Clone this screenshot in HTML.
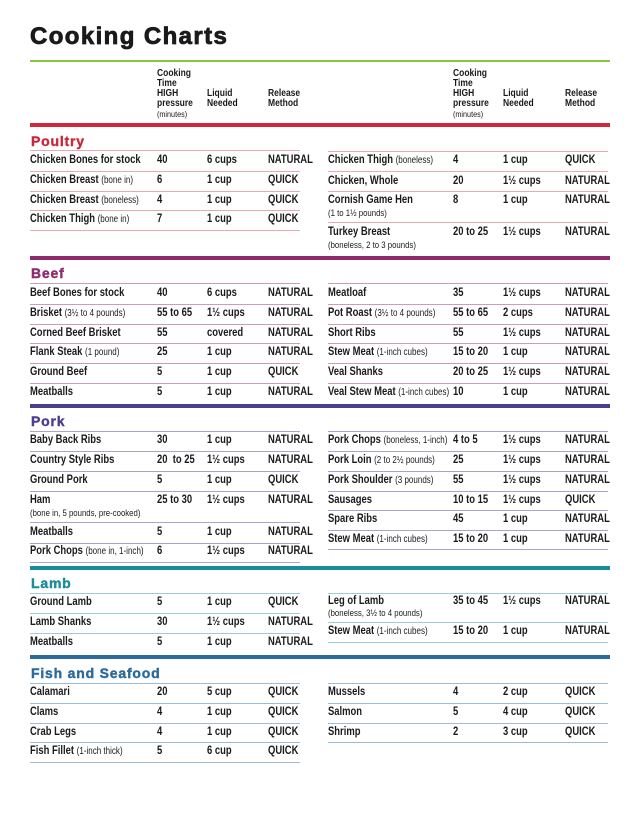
<!DOCTYPE html>
<html><head><meta charset="utf-8"><style>
body{margin:0;width:640px;height:823px;background:#fff;position:relative;overflow:hidden;font-family:"Liberation Sans",sans-serif;color:#1a1a1a}
div{position:absolute}
.t{font:bold 11.5px/13px "Liberation Sans",sans-serif;white-space:nowrap;transform:scaleX(0.82);transform-origin:0 0;margin-top:-1px}
.t small{font-weight:normal;font-size:9.8px}
.s{font:normal 9.5px/11px "Liberation Sans",sans-serif;white-space:nowrap;transform:scaleX(0.82);transform-origin:0 0}
.h{font:bold 10px/10px "Liberation Sans",sans-serif;transform:scaleX(0.85);transform-origin:0 0;white-space:nowrap}
.bar{height:4px;left:30px;width:580px}
.sec{font:900 14px/16px "Liberation Sans",sans-serif;left:31px;letter-spacing:0.8px;-webkit-text-stroke:0.4px currentColor}
.ln{height:1px}
.L{left:30px;width:270px}.R{left:328px;width:280px}
</style></head><body>
<div style="left:30px;top:24px;font:900 24px/26px 'Liberation Sans',sans-serif;letter-spacing:1.4px;color:#1a1a1a;-webkit-text-stroke:0.8px #1a1a1a">Cooking Charts</div>
<div style="left:30px;top:60px;width:580px;height:2px;background:#8cc63f"></div>

<div class="h" style="left:157px;top:69px">Cooking<br>Time<br>HIGH<br>pressure<br><span style="font-weight:normal;font-size:8.5px">(minutes)</span></div>
<div class="h" style="left:207px;top:89px">Liquid<br>Needed</div>
<div class="h" style="left:268px;top:89px">Release<br>Method</div>
<div class="h" style="left:453px;top:69px">Cooking<br>Time<br>HIGH<br>pressure<br><span style="font-weight:normal;font-size:8.5px">(minutes)</span></div>
<div class="h" style="left:503px;top:89px">Liquid<br>Needed</div>
<div class="h" style="left:565px;top:89px">Release<br>Method</div>

<!-- POULTRY -->
<div class="bar" style="top:123px;background:#d0283a"></div>
<div class="sec" style="top:133px;color:#c8283a">Poultry</div>
<div class="ln L" style="top:150px;background:#eaa8b0"></div>
<div class="ln L" style="top:171px;background:#eaa8b0"></div>
<div class="ln L" style="top:191px;background:#eaa8b0"></div>
<div class="ln L" style="top:210px;background:#eaa8b0"></div>
<div class="ln L" style="top:230px;background:#eaa8b0"></div>
<div class="ln R" style="top:151px;background:#eaa8b0"></div>
<div class="ln R" style="top:171px;background:#eaa8b0"></div>
<div class="ln R" style="top:191px;background:#eaa8b0"></div>
<div class="ln R" style="top:222px;background:#eaa8b0"></div>

<div class="t" style="left:30px;top:155px">Chicken Bones for stock</div><div class="t" style="left:157px;top:155px">40</div><div class="t" style="left:207px;top:155px">6 cups</div><div class="t" style="left:268px;top:155px">NATURAL</div>
<div class="t" style="left:30px;top:175px">Chicken Breast <small>(bone in)</small></div><div class="t" style="left:157px;top:175px">6</div><div class="t" style="left:207px;top:175px">1 cup</div><div class="t" style="left:268px;top:175px">QUICK</div>
<div class="t" style="left:30px;top:195px">Chicken Breast <small>(boneless)</small></div><div class="t" style="left:157px;top:195px">4</div><div class="t" style="left:207px;top:195px">1 cup</div><div class="t" style="left:268px;top:195px">QUICK</div>
<div class="t" style="left:30px;top:214px">Chicken Thigh <small>(bone in)</small></div><div class="t" style="left:157px;top:214px">7</div><div class="t" style="left:207px;top:214px">1 cup</div><div class="t" style="left:268px;top:214px">QUICK</div>

<div class="t" style="left:328px;top:155px">Chicken Thigh <small>(boneless)</small></div><div class="t" style="left:453px;top:155px">4</div><div class="t" style="left:503px;top:155px">1 cup</div><div class="t" style="left:565px;top:155px">QUICK</div>
<div class="t" style="left:328px;top:176px">Chicken, Whole</div><div class="t" style="left:453px;top:176px">20</div><div class="t" style="left:503px;top:176px">1½ cups</div><div class="t" style="left:565px;top:176px">NATURAL</div>
<div class="t" style="left:328px;top:195px">Cornish Game Hen</div><div class="s" style="left:328px;top:208px">(1 to 1½ pounds)</div><div class="t" style="left:453px;top:195px">8</div><div class="t" style="left:503px;top:195px">1 cup</div><div class="t" style="left:565px;top:195px">NATURAL</div>
<div class="t" style="left:328px;top:227px">Turkey Breast</div><div class="s" style="left:328px;top:240px">(boneless, 2 to 3 pounds)</div><div class="t" style="left:453px;top:227px">20 to 25</div><div class="t" style="left:503px;top:227px">1½ cups</div><div class="t" style="left:565px;top:227px">NATURAL</div>

<!-- BEEF -->
<div class="bar" style="top:256px;background:#8e2a6e"></div>
<div class="sec" style="top:265px;color:#8e2a6e">Beef</div>
<div class="ln L" style="top:283px;background:#cc9cbc"></div>
<div class="ln L" style="top:304px;background:#cc9cbc"></div>
<div class="ln L" style="top:324px;background:#cc9cbc"></div>
<div class="ln L" style="top:343px;background:#cc9cbc"></div>
<div class="ln L" style="top:363px;background:#cc9cbc"></div>
<div class="ln L" style="top:383px;background:#cc9cbc"></div>
<div class="ln R" style="top:283px;background:#cc9cbc"></div>
<div class="ln R" style="top:304px;background:#cc9cbc"></div>
<div class="ln R" style="top:324px;background:#cc9cbc"></div>
<div class="ln R" style="top:343px;background:#cc9cbc"></div>
<div class="ln R" style="top:363px;background:#cc9cbc"></div>
<div class="ln R" style="top:383px;background:#cc9cbc"></div>

<div class="t" style="left:30px;top:288px">Beef Bones for stock</div><div class="t" style="left:157px;top:288px">40</div><div class="t" style="left:207px;top:288px">6 cups</div><div class="t" style="left:268px;top:288px">NATURAL</div>
<div class="t" style="left:30px;top:308px">Brisket <small>(3½ to 4 pounds)</small></div><div class="t" style="left:157px;top:308px">55 to 65</div><div class="t" style="left:207px;top:308px">1½ cups</div><div class="t" style="left:268px;top:308px">NATURAL</div>
<div class="t" style="left:30px;top:328px">Corned Beef Brisket</div><div class="t" style="left:157px;top:328px">55</div><div class="t" style="left:207px;top:328px">covered</div><div class="t" style="left:268px;top:328px">NATURAL</div>
<div class="t" style="left:30px;top:347px">Flank Steak <small>(1 pound)</small></div><div class="t" style="left:157px;top:347px">25</div><div class="t" style="left:207px;top:347px">1 cup</div><div class="t" style="left:268px;top:347px">NATURAL</div>
<div class="t" style="left:30px;top:367px">Ground Beef</div><div class="t" style="left:157px;top:367px">5</div><div class="t" style="left:207px;top:367px">1 cup</div><div class="t" style="left:268px;top:367px">QUICK</div>
<div class="t" style="left:30px;top:387px">Meatballs</div><div class="t" style="left:157px;top:387px">5</div><div class="t" style="left:207px;top:387px">1 cup</div><div class="t" style="left:268px;top:387px">NATURAL</div>

<div class="t" style="left:328px;top:288px">Meatloaf</div><div class="t" style="left:453px;top:288px">35</div><div class="t" style="left:503px;top:288px">1½ cups</div><div class="t" style="left:565px;top:288px">NATURAL</div>
<div class="t" style="left:328px;top:308px">Pot Roast <small>(3½ to 4 pounds)</small></div><div class="t" style="left:453px;top:308px">55 to 65</div><div class="t" style="left:503px;top:308px">2 cups</div><div class="t" style="left:565px;top:308px">NATURAL</div>
<div class="t" style="left:328px;top:328px">Short Ribs</div><div class="t" style="left:453px;top:328px">55</div><div class="t" style="left:503px;top:328px">1½ cups</div><div class="t" style="left:565px;top:328px">NATURAL</div>
<div class="t" style="left:328px;top:347px">Stew Meat <small>(1-inch cubes)</small></div><div class="t" style="left:453px;top:347px">15 to 20</div><div class="t" style="left:503px;top:347px">1 cup</div><div class="t" style="left:565px;top:347px">NATURAL</div>
<div class="t" style="left:328px;top:367px">Veal Shanks</div><div class="t" style="left:453px;top:367px">20 to 25</div><div class="t" style="left:503px;top:367px">1½ cups</div><div class="t" style="left:565px;top:367px">NATURAL</div>
<div class="t" style="left:328px;top:387px">Veal Stew Meat <small>(1-inch cubes)</small></div><div class="t" style="left:453px;top:387px">10</div><div class="t" style="left:503px;top:387px">1 cup</div><div class="t" style="left:565px;top:387px">NATURAL</div>

<!-- PORK -->
<div class="bar" style="top:404px;background:#4a3e8e"></div>
<div class="sec" style="top:413px;color:#4a3e8e">Pork</div>
<div class="ln L" style="top:431px;background:#aaa4cc"></div>
<div class="ln L" style="top:451px;background:#aaa4cc"></div>
<div class="ln L" style="top:471px;background:#aaa4cc"></div>
<div class="ln L" style="top:491px;background:#aaa4cc"></div>
<div class="ln L" style="top:522px;background:#aaa4cc"></div>
<div class="ln L" style="top:543px;background:#aaa4cc"></div>
<div class="ln L" style="top:562px;background:#aaa4cc"></div>
<div class="ln R" style="top:431px;background:#aaa4cc"></div>
<div class="ln R" style="top:451px;background:#aaa4cc"></div>
<div class="ln R" style="top:471px;background:#aaa4cc"></div>
<div class="ln R" style="top:491px;background:#aaa4cc"></div>
<div class="ln R" style="top:510px;background:#aaa4cc"></div>
<div class="ln R" style="top:530px;background:#aaa4cc"></div>
<div class="ln R" style="top:549px;background:#aaa4cc"></div>

<div class="t" style="left:30px;top:435px">Baby Back Ribs</div><div class="t" style="left:157px;top:435px">30</div><div class="t" style="left:207px;top:435px">1 cup</div><div class="t" style="left:268px;top:435px">NATURAL</div>
<div class="t" style="left:30px;top:455px">Country Style Ribs</div><div class="t" style="left:157px;top:455px">20 &nbsp;to 25</div><div class="t" style="left:207px;top:455px">1½ cups</div><div class="t" style="left:268px;top:455px">NATURAL</div>
<div class="t" style="left:30px;top:475px">Ground Pork</div><div class="t" style="left:157px;top:475px">5</div><div class="t" style="left:207px;top:475px">1 cup</div><div class="t" style="left:268px;top:475px">QUICK</div>
<div class="t" style="left:30px;top:495px">Ham</div><div class="s" style="left:30px;top:508px">(bone in, 5 pounds, pre-cooked)</div><div class="t" style="left:157px;top:495px">25 to 30</div><div class="t" style="left:207px;top:495px">1½ cups</div><div class="t" style="left:268px;top:495px">NATURAL</div>
<div class="t" style="left:30px;top:527px">Meatballs</div><div class="t" style="left:157px;top:527px">5</div><div class="t" style="left:207px;top:527px">1 cup</div><div class="t" style="left:268px;top:527px">NATURAL</div>
<div class="t" style="left:30px;top:546px">Pork Chops <small>(bone in, 1-inch)</small></div><div class="t" style="left:157px;top:546px">6</div><div class="t" style="left:207px;top:546px">1½ cups</div><div class="t" style="left:268px;top:546px">NATURAL</div>

<div class="t" style="left:328px;top:435px">Pork Chops <small>(boneless, 1-inch)</small></div><div class="t" style="left:453px;top:435px">4 to 5</div><div class="t" style="left:503px;top:435px">1½ cups</div><div class="t" style="left:565px;top:435px">NATURAL</div>
<div class="t" style="left:328px;top:455px">Pork Loin <small>(2 to 2½ pounds)</small></div><div class="t" style="left:453px;top:455px">25</div><div class="t" style="left:503px;top:455px">1½ cups</div><div class="t" style="left:565px;top:455px">NATURAL</div>
<div class="t" style="left:328px;top:475px">Pork Shoulder <small>(3 pounds)</small></div><div class="t" style="left:453px;top:475px">55</div><div class="t" style="left:503px;top:475px">1½ cups</div><div class="t" style="left:565px;top:475px">NATURAL</div>
<div class="t" style="left:328px;top:495px">Sausages</div><div class="t" style="left:453px;top:495px">10 to 15</div><div class="t" style="left:503px;top:495px">1½ cups</div><div class="t" style="left:565px;top:495px">QUICK</div>
<div class="t" style="left:328px;top:514px">Spare Ribs</div><div class="t" style="left:453px;top:514px">45</div><div class="t" style="left:503px;top:514px">1 cup</div><div class="t" style="left:565px;top:514px">NATURAL</div>
<div class="t" style="left:328px;top:534px">Stew Meat <small>(1-inch cubes)</small></div><div class="t" style="left:453px;top:534px">15 to 20</div><div class="t" style="left:503px;top:534px">1 cup</div><div class="t" style="left:565px;top:534px">NATURAL</div>

<!-- LAMB -->
<div class="bar" style="top:566px;background:#1a8c98"></div>
<div class="sec" style="top:575px;color:#1a8c98">Lamb</div>
<div class="ln L" style="top:593px;background:#9cccd4"></div>
<div class="ln L" style="top:613px;background:#9cccd4"></div>
<div class="ln L" style="top:633px;background:#9cccd4"></div>
<div class="ln R" style="top:593px;background:#9cccd4"></div>
<div class="ln R" style="top:622px;background:#9cccd4"></div>
<div class="ln R" style="top:642px;background:#9cccd4"></div>

<div class="t" style="left:30px;top:597px">Ground Lamb</div><div class="t" style="left:157px;top:597px">5</div><div class="t" style="left:207px;top:597px">1 cup</div><div class="t" style="left:268px;top:597px">QUICK</div>
<div class="t" style="left:30px;top:617px">Lamb Shanks</div><div class="t" style="left:157px;top:617px">30</div><div class="t" style="left:207px;top:617px">1½ cups</div><div class="t" style="left:268px;top:617px">NATURAL</div>
<div class="t" style="left:30px;top:637px">Meatballs</div><div class="t" style="left:157px;top:637px">5</div><div class="t" style="left:207px;top:637px">1 cup</div><div class="t" style="left:268px;top:637px">NATURAL</div>

<div class="t" style="left:328px;top:596px">Leg of Lamb</div><div class="s" style="left:328px;top:608px">(boneless, 3½ to 4 pounds)</div><div class="t" style="left:453px;top:596px">35 to 45</div><div class="t" style="left:503px;top:596px">1½ cups</div><div class="t" style="left:565px;top:596px">NATURAL</div>
<div class="t" style="left:328px;top:626px">Stew Meat <small>(1-inch cubes)</small></div><div class="t" style="left:453px;top:626px">15 to 20</div><div class="t" style="left:503px;top:626px">1 cup</div><div class="t" style="left:565px;top:626px">NATURAL</div>

<!-- FISH -->
<div class="bar" style="top:655px;background:#2a6a9c"></div>
<div class="sec" style="top:665px;color:#2a6a9c">Fish and Seafood</div>
<div class="ln L" style="top:683px;background:#9cbcd8"></div>
<div class="ln L" style="top:703px;background:#9cbcd8"></div>
<div class="ln L" style="top:723px;background:#9cbcd8"></div>
<div class="ln L" style="top:742px;background:#9cbcd8"></div>
<div class="ln L" style="top:762px;background:#9cbcd8"></div>
<div class="ln R" style="top:683px;background:#9cbcd8"></div>
<div class="ln R" style="top:703px;background:#9cbcd8"></div>
<div class="ln R" style="top:723px;background:#9cbcd8"></div>
<div class="ln R" style="top:742px;background:#9cbcd8"></div>

<div class="t" style="left:30px;top:687px">Calamari</div><div class="t" style="left:157px;top:687px">20</div><div class="t" style="left:207px;top:687px">5 cup</div><div class="t" style="left:268px;top:687px">QUICK</div>
<div class="t" style="left:30px;top:707px">Clams</div><div class="t" style="left:157px;top:707px">4</div><div class="t" style="left:207px;top:707px">1 cup</div><div class="t" style="left:268px;top:707px">QUICK</div>
<div class="t" style="left:30px;top:727px">Crab Legs</div><div class="t" style="left:157px;top:727px">4</div><div class="t" style="left:207px;top:727px">1 cup</div><div class="t" style="left:268px;top:727px">QUICK</div>
<div class="t" style="left:30px;top:746px">Fish Fillet <small>(1-inch thick)</small></div><div class="t" style="left:157px;top:746px">5</div><div class="t" style="left:207px;top:746px">6 cup</div><div class="t" style="left:268px;top:746px">QUICK</div>

<div class="t" style="left:328px;top:687px">Mussels</div><div class="t" style="left:453px;top:687px">4</div><div class="t" style="left:503px;top:687px">2 cup</div><div class="t" style="left:565px;top:687px">QUICK</div>
<div class="t" style="left:328px;top:707px">Salmon</div><div class="t" style="left:453px;top:707px">5</div><div class="t" style="left:503px;top:707px">4 cup</div><div class="t" style="left:565px;top:707px">QUICK</div>
<div class="t" style="left:328px;top:727px">Shrimp</div><div class="t" style="left:453px;top:727px">2</div><div class="t" style="left:503px;top:727px">3 cup</div><div class="t" style="left:565px;top:727px">QUICK</div>
</body></html>
